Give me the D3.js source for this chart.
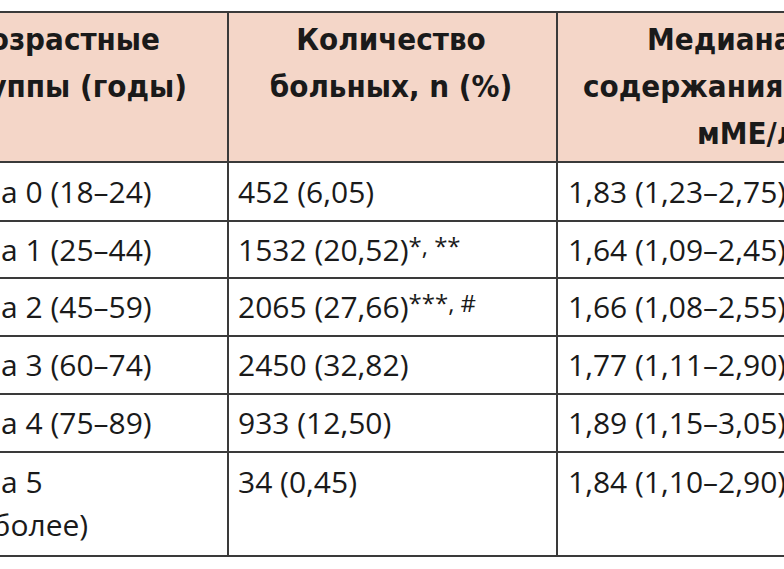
<!DOCTYPE html><html><head><meta charset="utf-8"><script src="https://cdn.jsdelivr.net/npm/d3@7"></script>
<style>body{margin:0;background:#fff}</style></head><body><svg id="c" width="784" height="569"></svg>
<script>
const headers=[["Возрастные","группы (годы)"],["Количество","больных, n (%)"],["Медиана","содержания ТТГ,","мМЕ/л"]];
const groups=[["Группа 0 (18–24)"],["Группа 1 (25–44)"],["Группа 2 (45–59)"],["Группа 3 (60–74)"],["Группа 4 (75–89)"],["Группа 5","(90 и более)"]];
const counts=["452 (6,05)","1532 (20,52)","2065 (27,66)","2450 (32,82)","933 (12,50)","34 (0,45)"];
const marks=["","*, **","***, #","","",""];
const medians=["1,83 (1,23–2,75)","1,64 (1,09–2,45)","1,66 (1,08–2,55)","1,77 (1,11–2,90)","1,89 (1,15–3,05)","1,84 (1,10–2,90)"];
const svg=d3.select("#c");
const rowY=[12,162,221,278,336,394,452,556];
const colL=[null,238,568];
svg.append("rect").attr("x",-10).attr("y",rowY[0]).attr("width",900).attr("height",rowY[1]-rowY[0]).attr("fill","#f4d6c8");
const hf="'DejaVu Sans Condensed','DejaVu Sans',sans-serif";
const bf="'Open Sans','Liberation Sans',sans-serif";
const fs=30;
function meas(t,f,w,s){const n=svg.append("text").attr("font-family",f).attr("font-weight",w).attr("font-size",s).text(t);const l=n.node().getComputedTextLength();n.remove();return l;}
// header placement (anchors)
const hPos=[[["end",160],["end",187]],[["middle",391],["middle",391]],[["start",647],["start",583],["start",697]]];
headers.forEach((h,i)=>h.forEach((t,j)=>{
 svg.append("text").attr("x",hPos[i][j][1]).attr("y",50+j*47).attr("text-anchor",hPos[i][j][0]).attr("font-family",hf).attr("font-weight","bold").attr("font-size",31).attr("fill","#1a1a1a").text(t);}));
const c1x=1-meas("Групп",bf,"normal",fs);
colL[0]=c1x;
function body(i,col,lines,extra){lines.forEach((t,j)=>{const y=i==5?rowY[i+1]+41+j*43:(rowY[i+1]+rowY[i+2])/2+11;
 const tx=svg.append("text").attr("x",colL[col]).attr("y",y).attr("font-family",bf).attr("font-size",fs).attr("fill","#1a1a1a");
 tx.append("tspan").text(t);if(extra&&j==0)tx.append("tspan").attr("font-size",24).attr("dy",-6).text(extra);});}
groups.forEach((g,i)=>{body(i,0,g);body(i,1,[counts[i]],marks[i]);body(i,2,[medians[i]]);});
const lc="#3a3a3a";
rowY.forEach(y=>svg.append("line").attr("x1",-10).attr("x2",800).attr("y1",y).attr("y2",y).attr("stroke",lc).attr("stroke-width",2));
[228,557].forEach(xx=>svg.append("line").attr("x1",xx).attr("x2",xx).attr("y1",rowY[0]).attr("y2",rowY[7]).attr("stroke",lc).attr("stroke-width",2));
</script></body></html>
